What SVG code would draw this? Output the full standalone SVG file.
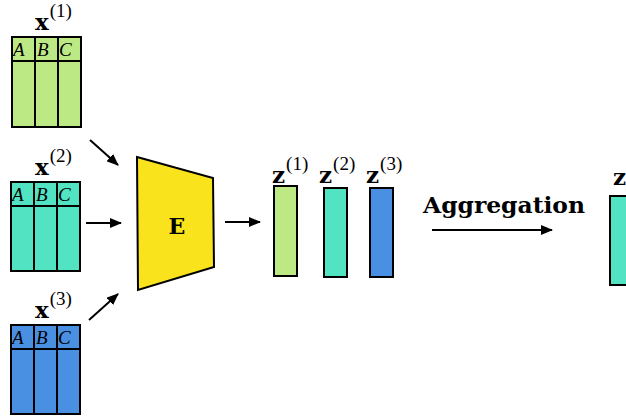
<svg xmlns="http://www.w3.org/2000/svg" width="626" height="417" viewBox="0 0 626 417">
<defs>
<marker id="ah" viewBox="0 0 12 10" refX="11" refY="5" markerWidth="12" markerHeight="10" markerUnits="userSpaceOnUse" orient="auto">
<path d="M0,0 L12,5 L0,10 Z" fill="#000"/>
</marker>
<style>
.box{stroke:#000;stroke-width:2}
.g{fill:#bde985}.t{fill:#52e3c2}.b{fill:#4a90e2}
.ln{stroke:#000;stroke-width:2;fill:none}
.hd{font-family:"Liberation Serif",serif;font-style:italic;font-size:19px;fill:#000}
.bx{font-family:"DejaVu Serif",serif;font-weight:bold;font-size:23px;fill:#000}
.sp{font-family:"Liberation Serif",serif;font-size:19px;fill:#000}
.conn{stroke:#000;stroke-width:2;fill:none;marker-end:url(#ah)}
</style>
</defs>
<rect width="626" height="417" fill="#fff"/>
<g id="table1">
<rect class="box g" x="12" y="37" width="69" height="90"/>
<path class="ln" d="M12,61 H81 M35,37 V127 M58,37 V127"/>
<text class="hd" x="13" y="56">A</text><text class="hd" x="37" y="56">B</text><text class="hd" x="59" y="56">C</text>
<text x="35" y="30"><tspan class="bx">x</tspan><tspan class="sp" dx="1" dy="-13">(1)</tspan></text>
</g>
<g id="table2">
<rect class="box t" x="11" y="182" width="69" height="89"/>
<path class="ln" d="M11,206 H80 M34,182 V271 M57,182 V271"/>
<text class="hd" x="12" y="201">A</text><text class="hd" x="36" y="201">B</text><text class="hd" x="58" y="201">C</text>
<text x="35" y="175"><tspan class="bx">x</tspan><tspan class="sp" dx="1" dy="-13">(2)</tspan></text>
</g>
<g id="table3">
<rect class="box b" x="11" y="325" width="69" height="89"/>
<path class="ln" d="M11,349 H80 M34,325 V414 M57,325 V414"/>
<text class="hd" x="12" y="344">A</text><text class="hd" x="36" y="344">B</text><text class="hd" x="58" y="344">C</text>
<text x="35" y="318"><tspan class="bx">x</tspan><tspan class="sp" dx="1" dy="-13">(3)</tspan></text>
</g>
<g id="encoder">
<polygon points="137,157 213,178 214,267 138,290" fill="#f8e31c" stroke="#000" stroke-width="2" stroke-linejoin="miter"/>
<text x="177" y="234" text-anchor="middle" font-family="DejaVu Serif,serif" font-weight="bold" font-size="22">E</text>
</g>
<g id="z1">
<rect class="box g" x="274" y="186" width="23" height="90"/>
<text x="272" y="183"><tspan class="bx">z</tspan><tspan class="sp" dx="1" dy="-13">(1)</tspan></text>
</g>
<g id="z2">
<rect class="box t" x="324" y="188" width="23" height="89"/>
<text x="319" y="183"><tspan class="bx">z</tspan><tspan class="sp" dx="1" dy="-13">(2)</tspan></text>
</g>
<g id="z3">
<rect class="box b" x="370" y="188" width="23" height="89"/>
<text x="366" y="183"><tspan class="bx">z</tspan><tspan class="sp" dx="1" dy="-13">(3)</tspan></text>
</g>
<g id="zagg">
<rect class="box t" x="610" y="196" width="30" height="89"/>
<text class="bx" x="613" y="185">z</text>
</g>
<g id="connectors">
<line class="conn" x1="90" y1="140" x2="118" y2="165"/>
<line class="conn" x1="86" y1="223" x2="121" y2="223"/>
<line class="conn" x1="89" y1="320" x2="118" y2="294"/>
<line class="conn" x1="225" y1="222" x2="260" y2="222"/>
<line class="conn" x1="432" y1="230" x2="552" y2="230"/>
<text x="423" y="213" font-family="DejaVu Serif,serif" font-weight="bold" font-size="22" textLength="162" lengthAdjust="spacingAndGlyphs">Aggregation</text>
</g>
</svg>
